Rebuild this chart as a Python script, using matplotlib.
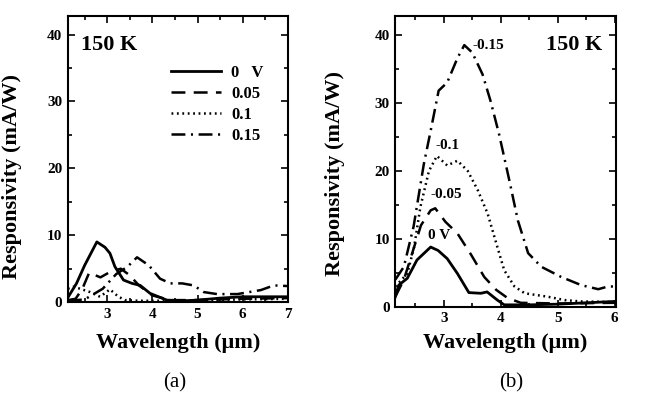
import matplotlib
matplotlib.use("Agg")
import matplotlib.pyplot as plt
from matplotlib.ticker import MultipleLocator

plt.rcParams["font.family"] = ["Liberation Serif", "DejaVu Serif"]
plt.rcParams["font.weight"] = "bold"
plt.rcParams["lines.scale_dashes"] = False

# ---- panel (a): bias 0 .. 0.15 V ----
a_labels = ["0   V", "0.05", "0.1", "0.15"]
a_x_00 = [2.13, 2.32, 2.5, 2.77, 2.95, 3.06, 3.17, 3.36, 3.55, 3.73, 3.95, 4.32, 4.7, 5.0, 5.5, 6.0, 6.5, 7.0]
a_y_00 = [0.7, 2.8, 5.5, 9.0, 8.2, 7.3, 5.3, 3.3, 2.8, 2.5, 1.3, 0.3, 0.2, 0.3, 0.6, 0.8, 0.8, 0.8]
a_x_05 = [2.13, 2.3, 2.45, 2.6, 2.85, 3.06, 3.3, 3.5, 3.7, 4.0, 4.4, 5.0, 6.0, 7.0]
a_y_05 = [0.3, 0.5, 2.0, 4.4, 3.7, 4.5, 5.0, 4.0, 2.5, 1.0, 0.3, 0.3, 0.5, 0.6]
a_x_10 = [2.13, 2.25, 2.4, 2.62, 2.84, 3.06, 3.25, 3.4, 3.7, 4.0, 4.5, 5.0, 6.0, 7.0]
a_y_10 = [2.0, 2.3, 2.0, 1.5, 0.8, 1.9, 0.8, 0.3, 0.2, 0.2, 0.2, 0.3, 0.4, 0.5]
a_x_15 = [2.13, 2.5, 2.9, 3.2, 3.45, 3.66, 3.92, 4.17, 4.4, 4.66, 4.91, 5.14, 5.43, 5.88, 6.4, 6.69, 7.0]
a_y_15 = [0.2, 0.4, 2.0, 4.2, 5.3, 6.7, 5.5, 3.5, 2.8, 2.8, 2.5, 1.5, 1.2, 1.2, 1.8, 2.5, 2.4]

# ---- panel (b): bias 0 .. -0.15 V ----
b_labels = ["0 V", "-0.05", "-0.1", "-0.15"]
b_x_00 = [2.15, 2.21, 2.36, 2.53, 2.77, 2.9, 3.06, 3.24, 3.44, 3.65, 3.76, 3.94, 4.06, 4.5, 5.0, 5.5, 6.0]
b_y_00 = [1.5, 3.2, 4.2, 6.9, 8.8, 8.3, 7.1, 4.9, 2.1, 2.0, 2.2, 1.0, 0.3, 0.3, 0.4, 0.6, 0.8]
b_x_05 = [2.15, 2.3, 2.45, 2.6, 2.77, 2.85, 3.03, 3.24, 3.47, 3.71, 3.92, 4.12, 4.35, 5.0, 6.0]
b_y_05 = [1.5, 4.0, 8.0, 12.0, 14.2, 14.5, 12.5, 10.8, 7.8, 4.4, 2.5, 1.3, 0.6, 0.5, 0.6]
b_x_10 = [2.15, 2.36, 2.48, 2.59, 2.74, 2.88, 3.06, 3.24, 3.42, 3.6, 3.77, 3.94, 4.06, 4.24, 4.42, 4.82, 5.12, 5.41, 6.0]
b_y_10 = [3.0, 4.9, 8.8, 14.7, 20.0, 22.2, 20.8, 21.5, 20.0, 17.1, 13.7, 8.8, 5.4, 3.0, 2.0, 1.5, 1.0, 0.8, 0.7]
b_x_15 = [2.15, 2.3, 2.47, 2.65, 2.77, 2.91, 3.06, 3.24, 3.36, 3.5, 3.68, 3.82, 3.97, 4.15, 4.3, 4.48, 4.71, 5.06, 5.41, 5.71, 5.88, 6.0]
b_y_15 = [4.0, 5.9, 11.8, 21.0, 25.9, 31.8, 33.0, 36.6, 38.5, 37.4, 34.2, 30.3, 25.4, 18.6, 12.7, 7.9, 5.9, 4.4, 3.2, 2.6, 3.0, 3.0]
b_lab_x = [2.73, 2.77, 2.86, 3.5]
b_lab_y = [10.5, 16.5, 23.7, 38.4]

styles = [
    dict(color="black", lw=2.0, linestyle="-"),
    dict(color="black", lw=1.8, dashes=(10, 6)),
    dict(color="black", lw=1.8, dashes=(1.3, 2.6)),
    dict(color="black", lw=1.8, dashes=(10, 4, 1.5, 4)),
]


def style_axes(ax, xlim, xticks):
    ax.set_xlim(*xlim)
    ax.set_ylim(0, 42.8)
    ax.set_xticks(xticks)
    ax.set_yticks([0, 10, 20, 30, 40])
    ax.xaxis.set_minor_locator(MultipleLocator(0.5))
    ax.yaxis.set_minor_locator(MultipleLocator(5))
    ax.tick_params(which="both", direction="in", top=True, right=True,
                   labelsize=11, width=1.2, pad=4)
    ax.tick_params(which="major", length=5)
    ax.tick_params(which="minor", length=3)
    for s in ax.spines.values():
        s.set_linewidth(1.5)
    ax.set_xlabel("Wavelength (μm)", fontsize=16, fontweight="bold")
    ax.set_ylabel("Responsivity (mA/W)", fontsize=16, fontweight="bold")


fig = plt.figure(figsize=(6.47, 3.97), dpi=100)
ax1 = fig.add_axes([0.105, 0.239, 0.340, 0.721])
ax2 = fig.add_axes([0.611, 0.227, 0.341, 0.733])

# (a)
for (x, y), st, lab in zip([(a_x_00, a_y_00), (a_x_05, a_y_05),
                            (a_x_10, a_y_10), (a_x_15, a_y_15)],
                           styles, a_labels):
    ax1.plot(x, y, label=lab, **st)
style_axes(ax1, (2.13, 7.0), [3, 4, 5, 6, 7])
ax1.text(0.06, 0.90, "150 K", transform=ax1.transAxes, fontsize=16,
         fontweight="bold", va="center", ha="left")
leg = ax1.legend(loc="upper left", bbox_to_anchor=(0.47, 0.83), frameon=False,
                 fontsize=12, handlelength=3.0, handletextpad=0.6,
                 labelspacing=0.3, borderpad=0, borderaxespad=0)
for t in leg.get_texts():
    t.set_fontweight("bold")
ax1.yaxis.set_label_coords(-0.21, 0.44)
ax1.xaxis.set_label_coords(0.5, -0.108)

# (b)
for (x, y), st in zip([(b_x_00, b_y_00), (b_x_05, b_y_05),
                       (b_x_10, b_y_10), (b_x_15, b_y_15)], styles):
    ax2.plot(x, y, **st)
for lab, tx, ty in zip(b_labels, b_lab_x, b_lab_y):
    ax2.text(tx, ty, lab, fontsize=11, fontweight="bold", ha="left", va="center")
style_axes(ax2, (2.15, 6.02), [3, 4, 5, 6])
ax2.text(0.94, 0.90, "150 K", transform=ax2.transAxes, fontsize=16,
         fontweight="bold", va="center", ha="right")
ax2.yaxis.set_label_coords(-0.226, 0.46)
ax2.xaxis.set_label_coords(0.5, -0.089)

fig.text(0.27, 0.035, "(a)", fontsize=15, fontweight="normal", ha="center", va="center")
fig.text(0.79, 0.035, "(b)", fontsize=15, fontweight="normal", ha="center", va="center")

fig.savefig("out.png", dpi=100)
